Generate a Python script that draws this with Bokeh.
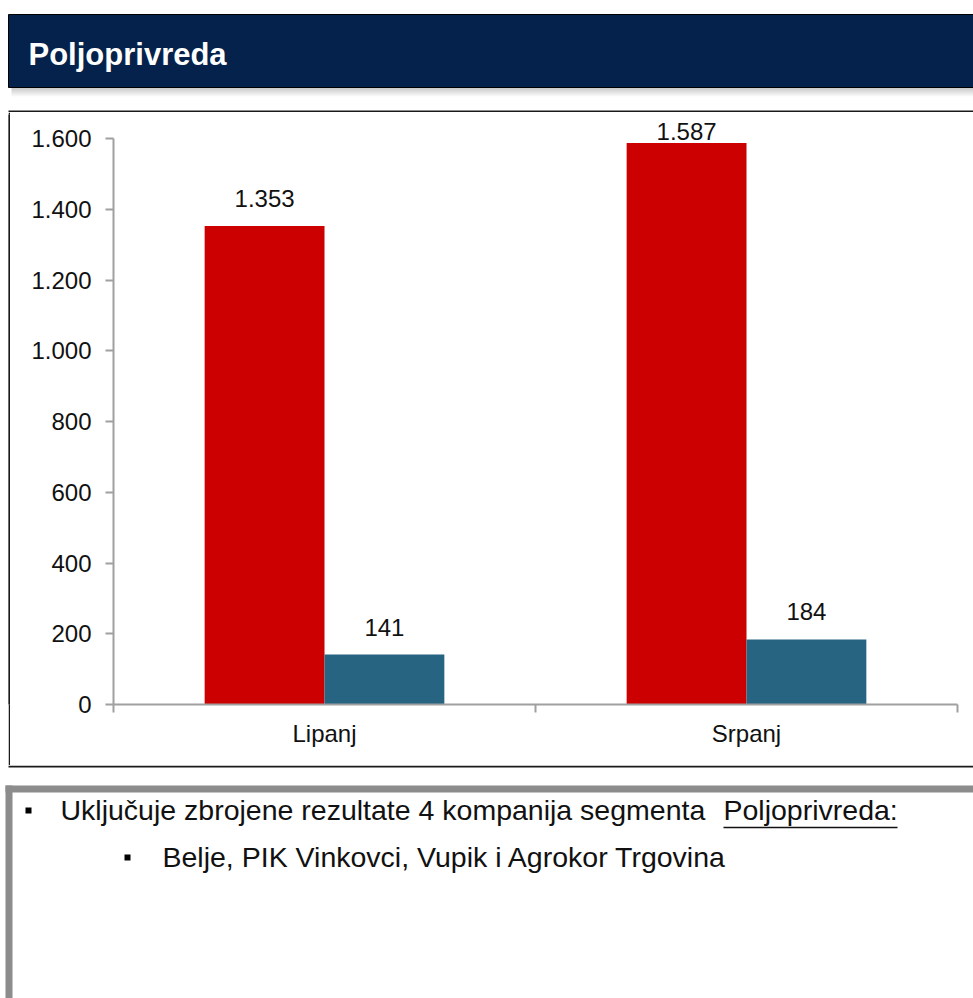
from bokeh.plotting import figure
from bokeh.models import ColumnDataSource, Range1d, LinearAxis, FixedTicker, Spacer
from bokeh.layouts import column, row
from bokeh.transform import dodge
from bokeh.core.properties import value
from bokeh.embed import file_html
from bokeh.resources import INLINE

# ---------------- data ----------------
title_text = "Poljoprivreda"
categories = ["Lipanj", "Srpanj"]
series_red = [1353, 1587]
series_blue = [141, 184]
y_ticks = [0, 200, 400, 600, 800, 1000, 1200, 1400, 1600]
note_line1 = "Uključuje zbrojene rezultate 4 kompanija segmenta"
note_line1_underlined = "Poljoprivreda:"
note_line2 = "Belje, PIK Vinkovci, Vupik i Agrokor Trgovina"


def fmt(v):
    return f"{v:,}".replace(",", ".")


FONT = "Liberation Sans"
W = 973
RED = "#CC0000"
BLUE = "#266482"
NAVY = "#04224B"
AXIS = "#A0A0A0"
TXT = "#111111"
GRAY = "#8C8C8C"
EDGE = "#1A1A1A"
SHIFT = -9   # baseline correction for svg text


def base_fig(w, h, **kw):
    f = figure(width=w, height=h, output_backend="svg", toolbar_location=None,
               x_axis_type=None, y_axis_type=None, min_border=0,
               outline_line_color=None, **kw)
    f.grid.visible = False
    return f


def strip(w, h):
    s = base_fig(w, h, x_range=Range1d(0, 1), y_range=Range1d(0, 1),
                 background_fill_color=EDGE, border_fill_color=EDGE)
    s.quad(left=[0], right=[1], top=[1], bottom=[0], fill_color=EDGE, line_color=None)
    return s


# ---------------- header (page y 0..112) ----------------
HH = 112
hdr = base_fig(W, HH, x_range=Range1d(0, W), y_range=Range1d(HH, 0))
for i in range(9):
    hdr.quad(left=11, right=W, top=87 + i, bottom=88 + i, fill_color="black",
             fill_alpha=0.22 * (1 - i / 9), line_color=None)
hdr.quad(left=8, right=W + 5, top=14, bottom=87, fill_color=NAVY,
         line_color="black", line_width=1)
hdr.text(x=[28], y=[63 + SHIFT], text=[title_text], text_font=value(FONT),
         text_font_size="31px", text_font_style="bold", text_color="white",
         text_baseline="alphabetic", text_align="left")
hdr.quad(left=8, right=W + 5, top=110, bottom=112, fill_color=EDGE, line_color=None)

# ---------------- chart (page y 112..765) ----------------
CW, CH = 963, 653
n = len(categories)
top_px, bottom_px = 2, 61
frame_h = CH - top_px - bottom_px
px_per_unit = 566.0 / y_ticks[-1]
y_top = frame_h / px_per_unit


def label_offsets(vals, gap=18.5, min_base=28):
    # keep labels inside the plot area (like the source chart does)
    out = []
    for v in vals:
        bar_top = frame_h - v * px_per_unit       # px from frame top
        g = min(gap, bar_top - min_base + top_px)
        out.append(-g + SHIFT)
    return out


src = ColumnDataSource(dict(
    cat=categories,
    xc=[i + 0.5 for i in range(n)],          # category centres on the axis scale
    red=series_red, blue=series_blue,
    red_lbl=[fmt(v) for v in series_red],
    blue_lbl=[fmt(v) for v in series_blue],
    red_off=label_offsets(series_red),
    blue_off=label_offsets(series_blue),
))

p = figure(width=CW, height=CH, output_backend="svg", toolbar_location=None,
           x_range=Range1d(0, n), y_range=Range1d(0, y_top),
           x_axis_location=None, y_axis_location=None,
           min_border_left=103, min_border_right=16,
           min_border_top=top_px, min_border_bottom=bottom_px,
           outline_line_color=None)
p.grid.visible = False

off, bw = 0.142, 0.284
p.vbar(x=dodge("xc", -off), top="red", width=bw, source=src,
       fill_color=RED, line_color=None)
p.vbar(x=dodge("xc", off), top="blue", width=bw, source=src,
       fill_color=BLUE, line_color=None)
for col, lbl, o, yo in (("red", "red_lbl", -off, "red_off"),
                        ("blue", "blue_lbl", off, "blue_off")):
    p.text(x=dodge("xc", o), y=col, text=lbl, source=src,
           y_offset=yo, text_align="center", text_baseline="alphabetic",
           text_font=value(FONT), text_font_size="24px", text_color=TXT)

yaxis = LinearAxis(ticker=FixedTicker(ticks=y_ticks),
                   bounds=(y_ticks[0], y_ticks[-1]),
                   major_label_overrides={t: fmt(t) for t in y_ticks},
                   axis_line_color=AXIS, axis_line_width=2,
                   major_tick_line_color=AXIS, major_tick_line_width=2,
                   major_tick_out=8, major_tick_in=0,
                   minor_tick_line_color=None,
                   major_label_standoff=14,
                   major_label_text_font=FONT,
                   major_label_text_font_size="24px",
                   major_label_text_color=TXT)
p.add_layout(yaxis, "left")

xaxis = LinearAxis(ticker=FixedTicker(ticks=[i + 0.5 for i in range(n)],
                                      minor_ticks=list(range(n + 1))),
                   major_label_overrides={i + 0.5: c for i, c in enumerate(categories)},
                   axis_line_color=AXIS, axis_line_width=2,
                   major_tick_line_color=None, major_tick_out=0, major_tick_in=0,
                   minor_tick_line_color=AXIS, minor_tick_line_width=2,
                   minor_tick_out=8, minor_tick_in=0,
                   major_label_standoff=7,
                   major_label_text_font=FONT,
                   major_label_text_font_size="24px",
                   major_label_text_color=TXT)
p.add_layout(xaxis, "below")

# ---------------- notes box (page y 765..998) ----------------
TH = 233
txt = base_fig(W, TH, x_range=Range1d(0, W), y_range=Range1d(TH, 0))
txt.quad(left=8, right=W + 5, top=0, bottom=2, fill_color=EDGE, line_color=None)
txt.quad(left=5, right=W + 5, top=20, bottom=27, fill_color=GRAY, line_color=None)
txt.quad(left=5, right=12, top=20, bottom=TH + 5, fill_color=GRAY, line_color=None)
txt.quad(left=[25, 124], right=[31, 130], top=[42, 89], bottom=[48, 95],
         fill_color="black", line_color=None)
txt.text(x=[60], y=[53 + SHIFT], text=[note_line1], text_font=value(FONT),
         text_font_size="28.5px", text_color=TXT, text_baseline="alphabetic")
txt.text(x=[723], y=[53 + SHIFT], text=[note_line1_underlined], text_font=value(FONT),
         text_font_size="28.5px", text_color=TXT, text_baseline="alphabetic")
txt.segment(x0=[723], y0=[62], x1=[897], y1=[62], line_color=TXT, line_width=1.5)
txt.text(x=[162], y=[100 + SHIFT], text=[note_line2], text_font=value(FONT),
         text_font_size="28.5px", text_color=TXT, text_baseline="alphabetic")

layout = column(hdr, row(Spacer(width=8, height=CH), strip(2, CH), p), txt)

open("out.html", "w").write(file_html(layout, INLINE))
